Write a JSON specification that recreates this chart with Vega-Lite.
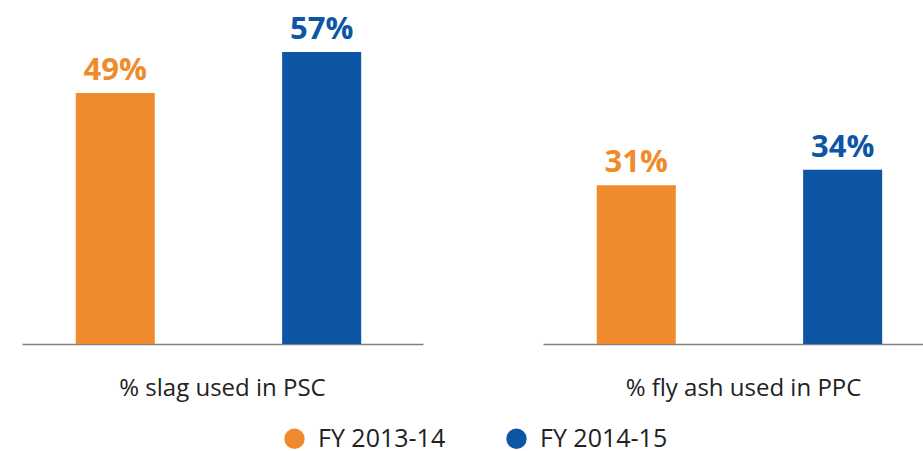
{
  "$schema": "https://vega.github.io/schema/vega-lite/v6.json",
  "padding": {"left": 22, "top": 13, "right": 0, "bottom": 0},
  "background": "white",
  "data": {"values": [
    {"cat": "% slag used in PSC", "fy": "FY 2013-14", "v": 49, "label": "49%"},
    {"cat": "% slag used in PSC", "fy": "FY 2014-15", "v": 57, "label": "57%"},
    {"cat": "% fly ash used in PPC", "fy": "FY 2013-14", "v": 31, "label": "31%"},
    {"cat": "% fly ash used in PPC", "fy": "FY 2014-15", "v": 34, "label": "34%"}
  ]},
  "facet": {
    "column": {
      "field": "cat", "type": "nominal",
      "sort": ["% slag used in PSC", "% fly ash used in PPC"],
      "title": null,
      "header": {"labelOrient": "bottom", "labelFont": "Open Sans", "labelFontSize": 24, "labelColor": "#222222", "labelPadding": 33}
    }
  },
  "spacing": 120,
  "spec": {
    "width": 401,
    "height": 328,
    "encoding": {
      "x": {"field": "fy", "type": "nominal", "scale": {"paddingInner": 0.617, "paddingOuter": 0.28, "align": 0.465},
        "axis": {"labels": false, "ticks": false, "title": null, "domainColor": "#7f7f7f", "domainWidth": 1.5}},
      "y": {"field": "v", "type": "quantitative", "scale": {"domain": [0, 64]}, "axis": null},
      "color": {"field": "fy", "type": "nominal", "scale": {"range": ["#EF8B2C", "#0D56A5"]},
        "legend": {"orient": "none", "legendX": 260, "legendY": 410, "direction": "horizontal", "title": null, "symbolType": "circle", "symbolSize": 415, "symbolStrokeWidth": 0, "labelFont": "Open Sans", "labelFontSize": 25, "labelLimit": 300, "labelColor": "#222222", "columnPadding": 58, "labelOffset": 11}}
    },
    "layer": [
      {"mark": {"type": "bar"}},
      {"mark": {"type": "text", "baseline": "alphabetic", "dy": -13, "font": "Open Sans", "fontWeight": "bold", "fontSize": 31},
        "encoding": {"text": {"field": "label"}}}
    ]
  },
  "config": {"view": {"stroke": null}}
}
